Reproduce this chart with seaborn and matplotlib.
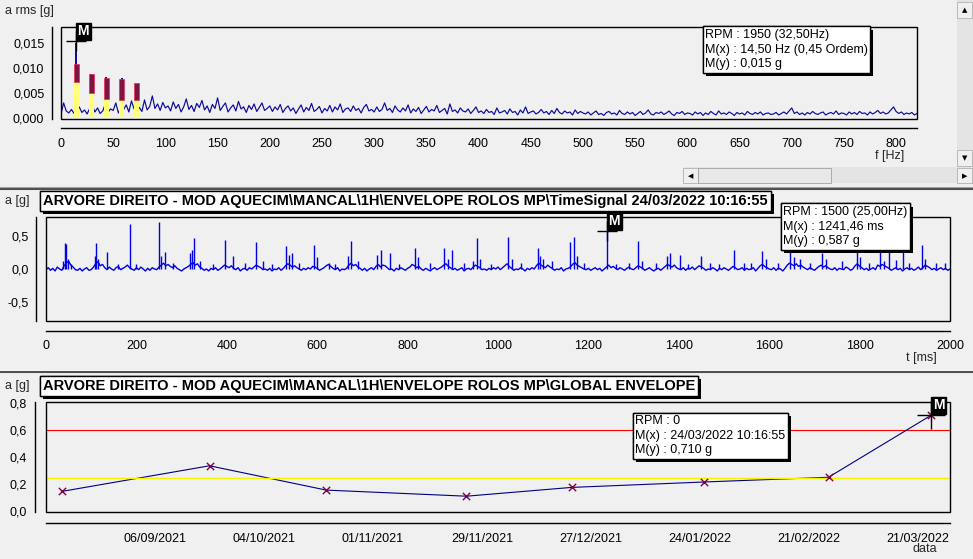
import numpy as np
import pandas as pd
import matplotlib
matplotlib.use("Agg")
import matplotlib.pyplot as plt
import matplotlib.patheffects as pe
import seaborn as sns
from matplotlib.patches import Rectangle
from matplotlib.lines import Line2D

# ---------------- data ----------------
# spectrum, 2.5 Hz bins from 0 to 820 Hz, amplitude in 1e-4 g
spec_amp_1e4 = [
    # 0 - 100 Hz
    8, 30, 14, 10, 17, 9, 13, 22, 11, 16, 8, 19, 25, 12, 20, 9, 14, 28, 11, 18,
    15, 30, 10, 22, 17, 26, 12, 34, 18, 14, 21, 13, 36, 16, 23, 44, 19, 28, 15, 31, 20,
    # 100 - 200 Hz
    24, 14, 32, 19, 27, 12, 22, 38, 17, 25, 13, 29, 21, 35, 16, 24, 11, 27, 19, 40,
    15, 23, 30, 12, 20, 26, 14, 33, 18, 22, 11, 25, 17, 28, 13, 21, 30, 15, 19, 24,
    # 200 - 300 Hz
    13, 22, 16, 27, 11, 19, 24, 14, 20, 9, 18, 26, 12, 21, 15, 29, 13, 17, 23, 10,
    19, 14, 25, 12, 22, 16, 28, 11, 18, 20, 13, 24, 15, 19, 10, 21, 27, 14, 17, 12,
    # 300 - 400 Hz
    22, 13, 17, 30, 15, 19, 11, 24, 16, 12, 20, 14, 26, 10, 18, 13, 21, 9, 16, 23,
    12, 17, 14, 25, 11, 15, 19, 8, 28, 13, 16, 10, 20, 14, 12, 18, 9, 15, 22, 11,
    # 400 - 500 Hz
    14, 9, 17, 11, 13, 7, 20, 10, 12, 15, 8, 18, 11, 13, 6, 16, 10, 22, 9, 12,
    14, 8, 11, 17, 10, 13, 7, 15, 9, 19, 11, 8, 14, 10, 12, 6, 16, 9, 13, 10,
    # 500 - 600 Hz
    8, 12, 6, 10, 14, 7, 9, 5, 11, 13, 8, 10, 6, 15, 9, 7, 12, 8, 11, 5,
    9, 13, 7, 10, 16, 8, 6, 11, 9, 12, 7, 10, 14, 8, 5, 11, 9, 13, 7, 10,
    # 600 - 700 Hz
    9, 6, 12, 8, 11, 5, 10, 7, 13, 9, 6, 14, 8, 10, 7, 12, 9, 5, 11, 8,
    10, 6, 13, 9, 7, 11, 8, 12, 6, 9, 10, 7, 8, 11, 6, 9, 12, 8, 14, 20,
    # 700 - 800 Hz
    9, 12, 7, 10, 6, 11, 8, 13, 9, 7, 10, 12, 6, 9, 11, 8, 14, 7, 10, 9,
    6, 12, 8, 11, 7, 13, 9, 10, 6, 12, 8, 11, 15, 9, 12, 8, 10, 16, 22, 13,
    # 800 - 820 Hz
    9, 12, 7, 10, 8, 11, 6, 9,
]
spec_freq = np.arange(len(spec_amp_1e4)) * 2.5

# running-speed harmonics and their alarm bands
harm_freq = [14.5, 29.0, 43.5, 58.0, 72.5]
harm_peak = [0.0150, 0.0088, 0.0082, 0.0080, 0.0060]
band_low = [0.0072, 0.0050, 0.0037, 0.0036, 0.0036]
band_high = [0.0107, 0.0088, 0.0080, 0.0078, 0.0070]

# time signal baseline, 5 ms samples, in 0.01 g
ts_base_cg = [
    -1, 2, -2, 1, -3, 3, 0, -2, 5, 9, 12, 6, 3, -1, -2, 1, -3, 0, 2, -2,
    -1, 3, 8, 11, 5, 7, 2, -1, 3, 0, -2, 2, 4, -1, 1, 3, 6, 2, 0, -2,
    2, -1, 3, 0, -3, 1, -2, 2, 0, -1, 3, 6, 9, 5, 7, 4, 2, 5, 1, -1,
    -3, 0, 2, 4, 7, 10, 6, 8, 3, 1, -2, 0, -3, 1, -1, 2, -2, 0, 3, 6,
    4, 2, 5, 1, -1, 2, -3, 0, 1, -2, 2, 0, 3, 6, 4, 2, -1, 0, -2, 1,
    -3, 0, -1, 2, -2, 1, 5, 8, 6, 3, 5, 2, 0, -2, 1, -1, 2, 0, 4, 3,
    1, -2, 0, 2, 5, 7, 4, 1, -1, 2, -3, 0, -1, 1, 6, 9, 5, 7, 3, 1,
    -2, 1, -3, 0, 2, -1, 4, 7, 3, 6, 5, 2, -1, 0, -3, 1, -1, 2, 0, -2,
    1, 3, 7, 5, 2, 4, 0, -2, 1, -1, -3, 0, 2, -1, 1, 3, 6, 8, 4, 2,
    -1, 1, -2, 0, 2, -3, 0, 1, -1, 3, 6, 4, 2, -1, 0, -2, 1, -1, 2, 0,
    3, -1, 2, 5, 8, 4, 1, -2, 0, -1, 2, 0, -3, 1, -1, 2, 0, 5, 9, 6,
    4, 2, 6, 3, 1, -2, 0, -1, 2, -3, 0, 1, 3, 7, 10, 6, 4, 2, 0, -1,
    1, -2, 0, 2, -1, 1, -3, 0, 3, 6, 2, 4, 1, -1, 2, 0, -2, 1, 3, 0,
    -1, 2, 5, 3, 1, -2, 0, 2, -1, -3, 0, 1, -2, 1, 4, 7, 5, 3, 6, 2,
    0, -1, 2, -2, 1, 0, 3, -1, 2, 5, 3, 1, -2, 0, -1, 2, 0, -3, 1, -1,
    2, 0, -2, 1, 4, 2, -1, 0, 2, -2, 1, -1, 0, 2, -3, 1, 5, 7, 4, 2,
    0, -1, 2, -2, 1, 0, -3, 1, 6, 9, 7, 5, 8, 4, 6, 3, 1, -1, 2, 0,
    -2, 1, 4, 6, 3, 5, 2, 0, -1, 2, -2, 1, 0, -1, 3, 1, -2, 0, 5, 8,
    4, 2, -1, 1, -2, 0, 2, -1, 6, 4, 7, 5, 3, 1, -2, 0, 2, -1, 1, -3,
    0, 2, -1, 1, -2, 0, 3, -1, 2, 6, 4, 2, -1, 1, -2, 0, 2, -1, 1, -2,
    0,
]
ts_time = np.arange(len(ts_base_cg)) * 5.0

# impacts in the time signal (ms, g)
spike_t = [38, 42, 45, 48, 55, 108, 110, 114, 134, 160, 185, 200, 251, 254, 264, 280,
           318, 324, 328, 340, 370, 395, 414, 440, 465, 480, 500, 531, 538, 545, 560,
           593, 600, 625, 640, 668, 675, 690, 732, 741, 760, 780, 816, 822, 850,
           881, 890, 898, 925, 945, 954, 960, 985, 1022, 1030, 1050, 1089, 1093, 1100,
           1120, 1159, 1168, 1175, 1190, 1241.46, 1260, 1290, 1310, 1318, 1350, 1375,
           1380, 1402, 1420, 1449, 1470, 1490, 1522, 1545, 1560, 1584, 1592, 1620,
           1646, 1655, 1668, 1690, 1717, 1725, 1760, 1794, 1800, 1820, 1846, 1855,
           1866, 1880, 1897, 1910, 1938, 1945, 1970, 1990]
spike_a = [0.12, 0.40, 0.38, 0.15, 0.08, 0.20, 0.40, 0.15, 0.26, 0.08, 0.70, 0.08, 0.72, 0.20, 0.26, 0.10,
           0.24, 0.30, 0.47, 0.12, 0.08, 0.44, 0.20, 0.09, 0.42, 0.12, 0.07, 0.36, 0.22, 0.25, 0.10,
           0.37, 0.18, 0.10, 0.08, 0.20, 0.43, 0.12, 0.22, 0.29, 0.25, 0.08, 0.33, 0.18, 0.09,
           0.32, 0.15, 0.30, 0.09, 0.12, 0.47, 0.15, 0.08, 0.49, 0.15, 0.10, 0.32, 0.20, 0.15,
           0.12, 0.42, 0.49, 0.20, 0.10, 0.587, 0.08, 0.10, 0.43, 0.12, 0.09, 0.20,
           0.25, 0.22, 0.08, 0.20, 0.10, 0.08, 0.30, 0.10, 0.09, 0.27, 0.15, 0.09,
           0.30, 0.18, 0.15, 0.10, 0.25, 0.15, 0.12, 0.35, 0.18, 0.10, 0.33, 0.12,
           0.34, 0.14, 0.30, 0.10, 0.37, 0.15, 0.10, 0.09]

# global envelope trend
trend_dates = pd.to_datetime(["2021-08-13 00:00:00", "2021-09-20 00:00:00", "2021-10-20 00:00:00",
                              "2021-11-25 00:00:00", "2021-12-22 00:00:00", "2022-01-25 00:00:00",
                              "2022-02-26 00:00:00", "2022-03-24 10:16:55"], format="ISO8601")
trend_vals = [0.145, 0.335, 0.155, 0.11, 0.175, 0.215, 0.25, 0.71]
alarm_level = 0.6
alert_level = 0.242
date_ticks = ["2021-09-06", "2021-10-04", "2021-11-01", "2021-11-29",
              "2021-12-27", "2022-01-24", "2022-02-21", "2022-03-21"]
date_labels = ["06/09/2021", "04/10/2021", "01/11/2021", "29/11/2021",
               "27/12/2021", "24/01/2022", "21/02/2022", "21/03/2022"]

title_path = "ARVORE DIREITO - MOD AQUECIM\\MANCAL\\1H\\ENVELOPE ROLOS MP\\"

# ---------------- figure ----------------
sns.set_theme(style="white")
plt.rcParams["font.family"] = ["Liberation Sans", "DejaVu Sans"]
plt.rcParams["font.size"] = 9

W, H = 973, 559
BG = "#f0f0f0"
fig = plt.figure(figsize=(W / 100, H / 100), dpi=100, facecolor=BG)


def rect(l, t, r, b):
    return [l / W, 1 - b / H, (r - l) / W, (b - t) / H]


def fig_rect(l, t, r, b, **kw):
    fig.add_artist(Rectangle((l / W, 1 - b / H), (r - l) / W, (b - t) / H,
                             transform=fig.transFigure, **kw))


def ftext(x, y, s, **kw):
    return fig.text(x / W, 1 - y / H, s, **kw)


def shadow_box(x, y, s, **kw):
    # white box with a black drop shadow, as in the software
    t = ftext(x, y, s, va="top", ha="left", color="black",
              bbox=dict(boxstyle="square,pad=0.2", fc="white", ec="black", lw=1), **kw)
    t.get_bbox_patch().set_path_effects(
        [pe.withSimplePatchShadow(offset=(2.2, -2.2), shadow_rgbFace="black", alpha=1.0),
         pe.Normal()])
    return t


def style_axes(ax, out):
    ax.set_facecolor("none")
    for side in ["top", "right"]:
        ax.spines[side].set_visible(False)
    for side in ["left", "bottom"]:
        ax.spines[side].set_position(("outward", out))
        ax.spines[side].set_color("black")
        ax.spines[side].set_linewidth(1.0)
    ax.add_patch(Rectangle((0, 0), 1, 1, transform=ax.transAxes, fill=False,
                           ec="black", lw=1.0, clip_on=False, zorder=6))
    ax.tick_params(which="both", direction="inout", length=7, width=1,
                   colors="black", labelsize=9, pad=2)
    ax.tick_params(axis="x", which="both", pad=3.5)
    ax.set_xlabel("")
    ax.set_ylabel("")
    ax.grid(False)


def comma(fmt):
    return lambda vals: [format(v, fmt).replace(".", ",") for v in vals]


def marker_m(ax, x, y, ms):
    ax.plot([x], [y], marker="+", ms=ms, mew=1.0, color="black", zorder=7, clip_on=False)
    ax.annotate("M", xy=(x, y), xytext=(1, 2), textcoords="offset points",
                ha="left", va="bottom", color="white", fontsize=10, fontweight="bold",
                bbox=dict(boxstyle="square,pad=0.12", fc="black", ec="black"),
                zorder=8, annotation_clip=False)


# ---- panel 1: spectrum ----
ax1 = fig.add_axes(rect(61, 27, 917, 119))
sns.lineplot(x=spec_freq, y=np.array(spec_amp_1e4) / 1e4, ax=ax1,
             color="#0a0a9c", linewidth=0.85, estimator=None)
ax1.vlines(harm_freq, 0, harm_peak, color="#0a0a9c", lw=1.4, zorder=2)
ax1.bar(harm_freq, band_low, width=4.6, color="#ffff78", edgecolor="none", zorder=3)
ax1.bar(harm_freq, np.array(band_high) - np.array(band_low), bottom=band_low, width=4.6,
        color="#7c1545", edgecolor="#e83050", linewidth=0.5, zorder=3)
ax1.set_xlim(0, 820)
ax1.set_ylim(-0.0002, 0.0181)
style_axes(ax1, 6.5)
ax1.set_xticks(range(0, 801, 50))
ax1.set_xticks([820], minor=True)
ax1.set_yticks([0, 0.005, 0.010, 0.015])
ax1.set_yticklabels(comma(".3f")(ax1.get_yticks()))
ax1.set_yticks([0.0181], minor=True)
marker_m(ax1, 14.5, 0.0153, 15)

ftext(5, 5, "a rms [g]", va="top", ha="left", fontsize=9)
ftext(904, 150, "f [Hz]", va="top", ha="right", fontsize=9)
shadow_box(705, 29, "RPM : 1950 (32,50Hz)\nM(x) : 14,50 Hz (0,45 Ordem)\nM(y) : 0,015 g",
           fontsize=9, linespacing=1.3)

# scrollbars of the spectrum window
fig_rect(957, 0, 973, 167, fc="#e4e4e4", ec="none")
fig_rect(957, 2, 972, 18, fc=BG, ec="#b0b0b0", lw=0.6)
fig_rect(957, 150, 972, 166, fc=BG, ec="#b0b0b0", lw=0.6)
fig_rect(683, 167, 973, 183, fc="#e4e4e4", ec="none")
fig_rect(683, 168, 698, 183, fc=BG, ec="#b0b0b0", lw=0.6)
fig_rect(698, 168, 831, 183, fc="#e8e8e8", ec="#a0a0a0", lw=0.6)
fig_rect(957, 168, 972, 183, fc=BG, ec="#b0b0b0", lw=0.6)
for x, y, s in [(965, 10, "\u25b2"), (965, 158, "\u25bc"), (691, 176, "\u25c0"), (965, 176, "\u25b6")]:
    ftext(x, y, s, ha="center", va="center", fontsize=5, color="black",
          family="DejaVu Sans")

# panel separators
for y, c, lw in [(187, "#a8a8a8", 0.8), (189, "#505050", 1.5), (370, "#ffffff", 0.8), (372, "#505050", 1.5)]:
    fig.add_artist(Line2D([0, 1], [1 - y / H] * 2, color=c, lw=lw, transform=fig.transFigure))

# ---- panel 2: time signal ----
ax2 = fig.add_axes(rect(46, 217, 950, 321))
sns.lineplot(x=ts_time, y=np.array(ts_base_cg) / 100, ax=ax2,
             color="#0000e6", linewidth=1.0, estimator=None)
ax2.vlines(spike_t, 0, spike_a, color="#0000e6", lw=1.0, zorder=2)
ax2.set_xlim(0, 2000)
ax2.set_ylim(-0.8, 0.8)
style_axes(ax2, 7)
ax2.set_xticks(range(0, 2001, 200))
ax2.set_yticks([-0.5, 0.0, 0.5])
ax2.set_yticklabels(comma(".1f")(ax2.get_yticks()))
ax2.set_yticks([-0.8, 0.8], minor=True)
marker_m(ax2, 1241.46, 0.587, 14)

ftext(5, 195, "a [g]", va="top", ha="left", fontsize=9)
ftext(937, 352, "t [ms]", va="top", ha="right", fontsize=9)
shadow_box(43, 194, title_path + "TimeSignal 24/03/2022 10:16:55",
           fontsize=10.5, fontweight="bold")
shadow_box(783, 206, "RPM : 1500 (25,00Hz)\nM(x) : 1241,46 ms\nM(y) : 0,587 g",
           fontsize=9, linespacing=1.3)

# ---- panel 3: global envelope trend ----
ax3 = fig.add_axes(rect(46, 402, 950, 512))
ax3.axhline(alarm_level, color="#ff0000", lw=0.8, zorder=1)
sns.lineplot(x=trend_dates, y=trend_vals, ax=ax3, color="#000080", linewidth=0.8,
             estimator=None)
ax3.axhline(alert_level, color="#f4f400", lw=1.0, zorder=3)
sns.scatterplot(x=trend_dates, y=trend_vals, ax=ax3, marker="x", s=28,
                color="#800040", linewidth=1.0, zorder=4)
ax3.set_xlim(pd.Timestamp("2021-08-09"), pd.Timestamp("2022-03-29 05:00"))
ax3.set_ylim(-0.007, 0.807)
style_axes(ax3, 8)
ax3.set_xticks(pd.to_datetime(date_ticks))
ax3.set_xticklabels(date_labels)
ax3.set_xticks([pd.Timestamp("2021-08-09"), pd.Timestamp("2022-03-29 05:00")], minor=True)
ax3.set_yticks([0.0, 0.2, 0.4, 0.6, 0.8])
ax3.set_yticklabels(comma(".1f")(ax3.get_yticks()))
marker_m(ax3, trend_dates[-1], trend_vals[-1], 20)

ftext(5, 380, "a [g]", va="top", ha="left", fontsize=9)
ftext(937, 543, "data", va="top", ha="right", fontsize=9)
shadow_box(43, 379, title_path + "GLOBAL ENVELOPE", fontsize=10.5, fontweight="bold")
shadow_box(635, 415, "RPM : 0\nM(x) : 24/03/2022 10:16:55\nM(y) : 0,710 g",
           fontsize=9, linespacing=1.3)

fig.savefig("out.png", dpi=100, facecolor=BG)
